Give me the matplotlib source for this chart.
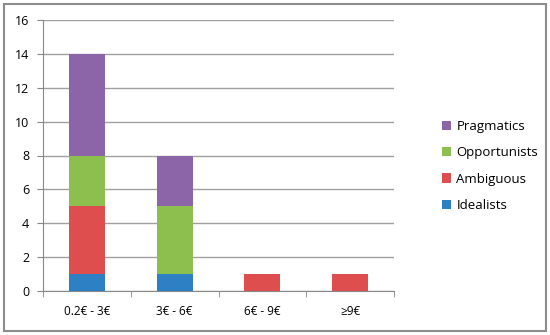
import matplotlib
matplotlib.use("Agg")
import matplotlib.pyplot as plt
from matplotlib.patches import Rectangle
import numpy as np

categories = ["0.2€ - 3€", "3€ - 6€", "6€ - 9€", "≥9€"]
idealists = [1, 1, 0, 0]
ambiguous = [4, 0, 1, 1]
opportunists = [3, 4, 0, 0]
pragmatics = [6, 3, 0, 0]
series_names = ["Idealists", "Ambiguous", "Opportunists", "Pragmatics"]
colors = ["#2C80C3", "#DF4E4E", "#8DBF4E", "#8C64A8"]
yticks = [0, 2, 4, 6, 8, 10, 12, 14, 16]

plt.rcParams['font.family'] = ['Open Sans', 'DejaVu Sans']

fig = plt.figure(figsize=(5.5, 3.35), dpi=100)
ax = fig.add_axes([43/550, 1-291/335, (394-43)/550, (291-20)/335])

x = np.arange(len(categories))
bottom = np.zeros(len(categories))
handles = []
for name, vals, c in zip(series_names, [idealists, ambiguous, opportunists, pragmatics], colors):
    h = ax.bar(x, vals, width=0.41, bottom=bottom, color=c, label=name, zorder=3)
    handles.append(h)
    bottom += np.array(vals)

ax.set_xlim(-0.5, len(categories) - 0.5)
ax.set_ylim(0, 16)
ax.set_yticks(yticks)
ax.set_yticklabels([str(v) for v in yticks], fontsize=9)
ax.yaxis.grid(True, color="#A0A0A0", linewidth=1, zorder=0)
ax.set_axisbelow(True)

ax.set_xticks(x)
ax.set_xticklabels(categories, fontsize=8.5)
ax.tick_params(axis='x', length=0, pad=10)
ax.set_xticks(np.arange(-0.5, len(categories), 1), minor=True)
ax.tick_params(axis='x', which='minor', length=4, color="#888888", direction='out')
ax.tick_params(axis='y', length=4, color="#888888", direction='out', pad=6)

for s in ['top', 'right']:
    ax.spines[s].set_visible(False)
for s in ['left', 'bottom']:
    ax.spines[s].set_color("#888888")

leg = fig.legend(handles[::-1], series_names[::-1], loc='center left',
                 bbox_to_anchor=(430/550, 1-166/335), frameon=False,
                 fontsize=9.5, handlelength=0.7, handleheight=0.7,
                 labelspacing=1.0, handletextpad=0.4)

fig.patches.append(Rectangle((4/550, 4/335), 542/550, 327/335, transform=fig.transFigure,
                             fill=False, edgecolor="#8C8C8C", linewidth=1.5))

fig.savefig("out.png", dpi=100)
